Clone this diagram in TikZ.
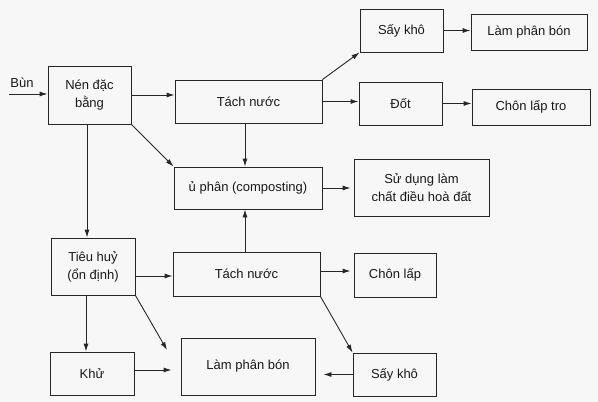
\documentclass[tikz,border=0pt]{standalone}
\usepackage{fontspec}
\setmainfont{Liberation Sans}
\usetikzlibrary{arrows.meta}
\begin{document}
\begin{tikzpicture}[x=1pt,y=-1pt,
  box/.style={draw=black!85, line width=0.9pt, inner sep=0pt, align=center,
    font=\fontsize{13}{18}\selectfont, text=black!90},
  arr/.style={draw=black!85, line width=0.9pt, -{Latex[length=8pt,width=5pt]}},
  lbl/.style={font=\fontsize{13}{16}\selectfont, text=black!90, inner sep=0pt}]
\fill[black!3] (0,0) rectangle (598,402);
\useasboundingbox (0,0) rectangle (598,402);
% nodes
\node[box, minimum width=83, minimum height=58] (nen) at (89.5,95) {Nén đặc\\bằng};
\node[box, minimum width=147, minimum height=43] (tach1) at (248.5,101.5) {Tách nước};
\node[box, minimum width=83, minimum height=43] (say1) at (401.5,30.5) {Sấy khô};
\node[box, minimum width=116, minimum height=36] (lam1) at (529,32) {Làm phân bón};
\node[box, minimum width=83, minimum height=43] (dot) at (400.5,103.5) {Đốt};
\node[box, minimum width=118, minimum height=36] (tro) at (531,107) {Chôn lấp tro};
\node[box, minimum width=148, minimum height=42] (u) at (248,188) {ủ phân (composting)};
\node[box, minimum width=135, minimum height=57] (sd) at (421.5,187.5) {Sử dụng làm\\chất điều hoà đất};
\node[box, minimum width=84, minimum height=57] (tieu) at (93,266.5) {Tiêu huỷ\\(ổn định)};
\node[box, minimum width=147, minimum height=44] (tach2) at (246.5,274) {Tách nước};
\node[box, minimum width=82, minimum height=44] (chon) at (395,275) {Chôn lấp};
\node[box, minimum width=84, minimum height=43] (khu) at (92,373.5) {Khử};
\node[box, minimum width=134, minimum height=57] (lam2) at (248,366.5) {Làm phân bón};
\node[box, minimum width=83, minimum height=43] (say2) at (394.5,374.5) {Sấy khô};
\node[lbl] (bun) at (22,83) {Bùn};
\coordinate (bunstart) at (9,94);
\coordinate (diagend) at (167,350);
% connectors
\draw[arr] (bunstart) -- (bunstart -| nen.west);
\draw[arr] (nen.east) -- (nen.east -| tach1.west);
\draw[arr] (nen.south east) -- (u.north west);
\draw[arr] ([xshift=-2.5pt]nen.south) -- ([xshift=-2.5pt]nen.south |- tieu.north);
\draw[arr] ([xshift=-3.5pt]tach1.south) -- ([xshift=-3.5pt]tach1.south |- u.north);
\draw[arr] (tach1.north east) -- (say1.south west);
\draw[arr] (tach1.east) -- (tach1.east -| dot.west);
\draw[arr] (say1.east) -- (say1.east -| lam1.west);
\draw[arr] (dot.east) -- (dot.east -| tro.west);
\draw[arr, shorten >=3pt] (u.east) -- (u.east -| sd.west);
\draw[arr] ([yshift=-2pt]tach2.west -| tieu.east) -- ([yshift=-2pt]tach2.west);
\draw[arr] ([xshift=-1.5pt]tach2.north) -- ([xshift=-1.5pt]tach2.north |- u.south);
\draw[arr, shorten >=3pt] ([yshift=3pt]tach2.east) -- ([yshift=3pt]tach2.east -| chon.west);
\draw[arr] (tach2.south east) -- (say2.north west);
\draw[arr] (tieu.south east) -- (diagend);
\draw[arr] ([xshift=-7pt]tieu.south) -- ([xshift=-7pt]tieu.south |- khu.north);
\draw[arr, shorten >=9pt] ([yshift=3.5pt]khu.east) -- ([yshift=3.5pt]khu.east -| lam2.west);
\draw[arr, shorten >=8pt] (say2.west) -- (say2.west -| lam2.east);
\end{tikzpicture}
\end{document}
